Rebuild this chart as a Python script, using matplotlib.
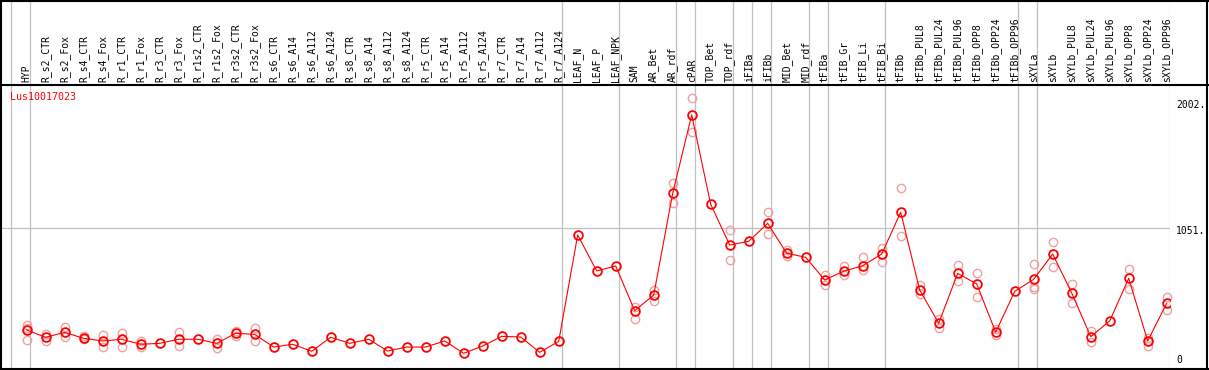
import numpy as np
import matplotlib
matplotlib.use('Agg')
import matplotlib.pyplot as plt
from matplotlib.lines import Line2D

# sample names (one column each)
labels = ['HYP',
          'R_s2_CTR', 'R_s2_Fox', 'R_s4_CTR', 'R_s4_Fox', 'R_r1_CTR', 'R_r1_Fox',
          'R_r3_CTR', 'R_r3_Fox', 'R_r1s2_CTR', 'R_r1s2_Fox', 'R_r3s2_CTR', 'R_r3s2_Fox',
          'R_s6_CTR', 'R_s6_A14', 'R_s6_A112', 'R_s6_A124',
          'R_s8_CTR', 'R_s8_A14', 'R_s8_A112', 'R_s8_A124',
          'R_r5_CTR', 'R_r5_A14', 'R_r5_A112', 'R_r5_A124',
          'R_r7_CTR', 'R_r7_A14', 'R_r7_A112', 'R_r7_A124',
          'LEAF_N', 'LEAF_P', 'LEAF_NPK', 'SAM', 'AR_Bet', 'AR_rdf', 'cPAR',
          'TOP_Bet', 'TOP_rdf', 'iFIBa', 'iFIBb', 'MID_Bet', 'MID_rdf',
          'tFIBa', 'tFIB_Gr', 'tFIB_Li', 'tFIB_Bi', 'tFIBb',
          'tFIBb_PUL8', 'tFIBb_PUL24', 'tFIBb_PUL96', 'tFIBb_OPP8', 'tFIBb_OPP24', 'tFIBb_OPP96',
          'sXYLa', 'sXYLb',
          'sXYLb_PUL8', 'sXYLb_PUL24', 'sXYLb_PUL96', 'sXYLb_OPP8', 'sXYLb_OPP24', 'sXYLb_OPP96']

# mean expression per sample
means = [282, 227, 264, 219, 199, 212, 174, 181, 212, 212, 181, 257, 249,
         153, 174, 121, 227, 181, 212, 123, 153, 153, 199, 106, 161, 234, 229, 113, 196,
         1000, 728, 766, 428, 546, 1315, 1907, 1232, 924, 952, 1088, 862, 831,
         660, 726, 768, 856, 1172, 584, 333, 710, 630, 265, 574,
         665, 856, 562, 232, 350, 673, 199, 484]

# individual replicates (column index -> values)
replicates = {
    0: [320, 300, 206], 1: [252, 199], 2: [302, 227], 3: [237, 212],
    4: [242, 151], 5: [259, 156], 6: [201, 151], 8: [267, 161],
    10: [212, 148], 11: [274, 237], 12: [297, 201],
    32: [458, 365], 33: [584, 503], 34: [1391, 1240], 35: [2033, 1776],
    37: [1035, 809], 39: [1172, 1005], 40: [887, 844],
    42: [698, 624], 43: [766, 695], 44: [831, 735], 45: [899, 798],
    46: [1353, 990], 47: [622, 554], 48: [365, 295], 49: [771, 650],
    50: [710, 534], 51: [287, 244],
    53: [781, 609, 592], 54: [945, 756], 55: [630, 484], 56: [277, 194],
    58: [741, 594], 59: [224, 163], 60: [534, 433],
}

# group separators drawn after these columns
group_ends = [-1, 0, 28, 31, 34, 35, 37, 38, 39, 41, 42, 45, 52, 53, 60]
gene = 'Lus10017023'

W, H = 1209, 370
fig = plt.figure(figsize=(W / 100, H / 100), dpi=100)
font = 'DejaVu Sans Mono'

x = np.arange(len(labels))
xlim = (-25.7 / 19, -25.7 / 19 + 1169 / 19)
ylim = (-12.8, 2126)

ax = fig.add_axes([1 / W, 1 / H, 1169 / W, 283 / H])
hx = fig.add_axes([1 / W, 285 / H, 1169 / W, 85 / H])
for a in (ax, hx):
    a.set_xlim(*xlim)
    a.axis('off')
    for g in group_ends:
        a.axvline(g + 0.18, color='#c0c0c0', lw=0.9, zorder=0)
ax.set_ylim(*ylim)
hx.set_ylim(0, 1)

ax.axhline(1051, color='#c0c0c0', lw=0.9, zorder=0)

# replicates
for i, vals in replicates.items():
    ax.plot([i] * len(vals), vals, 'o', mfc='none', mec='#f0a0a0',
            ms=6, mew=1.0, zorder=2, clip_on=False)

# mean line
ax.plot(x, means, '-', color='red', lw=0.8, zorder=3)
ax.plot(x, means, 'o', mfc='none', mec='red', ms=6.3, mew=1.3, zorder=4)

# header labels
for i, lab in enumerate(labels):
    hx.text(i, 0.03, lab, rotation=90, ha='center', va='bottom',
            fontsize=7, family=font)

ax.text(-0.88, 2043, gene, color='red', fontsize=7.2, family=font,
        ha='left', va='center')

xr = (1176 - 26.7) / 19
ax.text(xr, 2002 + 20, '2002.', fontsize=7, family=font, ha='left', va='top', clip_on=False)
ax.text(xr, 1051 + 20, '1051.', fontsize=7, family=font, ha='left', va='top', clip_on=False)
ax.text(xr, 15, '0', fontsize=7, family=font, ha='left', va='bottom', clip_on=False)

# frame and header separator
def fline(xs, ys):
    fig.add_artist(Line2D([v / W for v in xs], [1 - v / H for v in ys],
                          color='black', lw=1.5, transform=fig.transFigure))

fline([0.5, 0.5], [0, H])
fline([W - 2, W - 2], [0, H])
fline([0, W], [0.5, 0.5])
fline([0, W], [H - 1, H - 1])
fline([0, W], [85, 85])

fig.savefig('out.png', dpi=100)
